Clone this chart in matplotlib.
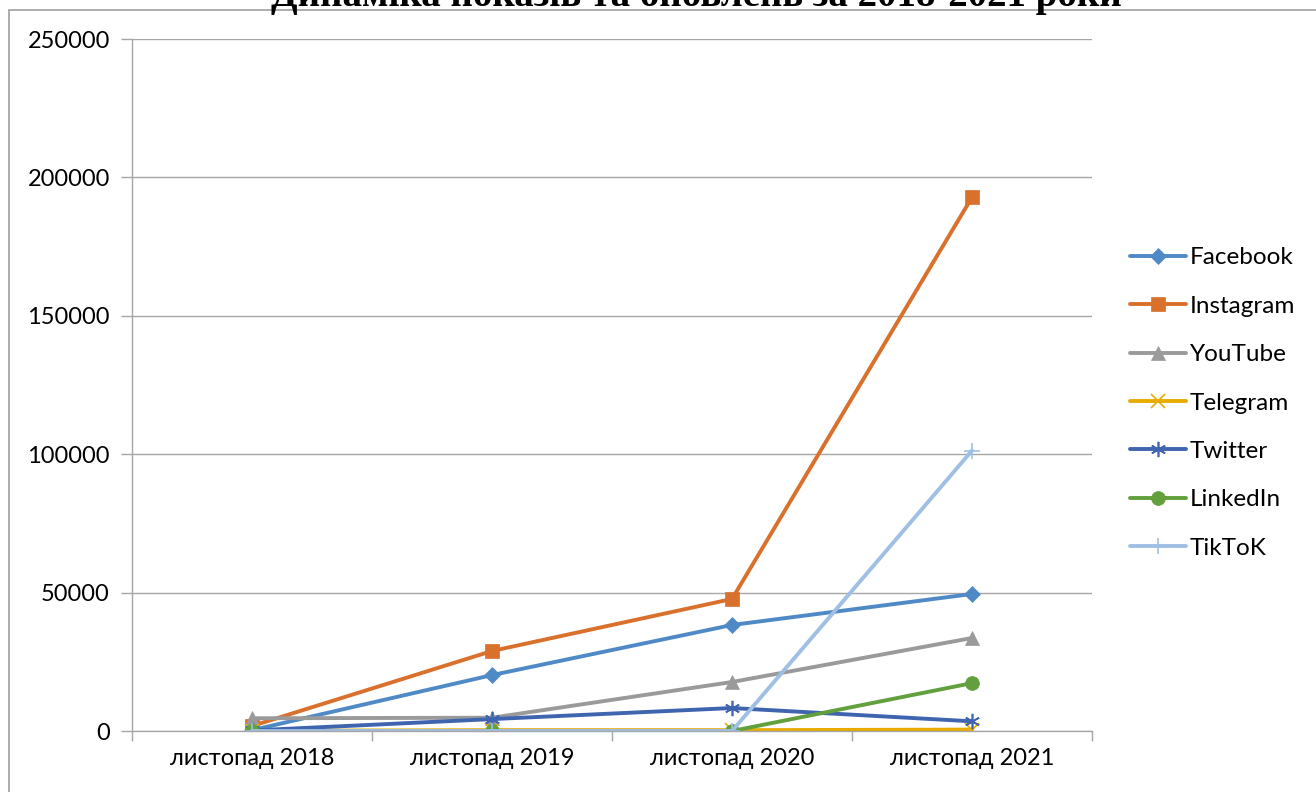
import matplotlib.pyplot as plt
from matplotlib.patches import Rectangle
import numpy as np

plt.rcParams['font.family'] = ['Lato', 'DejaVu Sans']

categories = ['листопад 2018', 'листопад 2019', 'листопад 2020', 'листопад 2021']

facebook = [300, 20200, 38300, 49500]
instagram = [1800, 28900, 47700, 192800]
youtube = [4600, 4800, 17700, 33600]
telegram = [100, 300, 300, 500]
twitter = [200, 4300, 8300, 3500]
linkedin = [0, 0, 0, 17300]
tiktok = [0, 0, 0, 101300]

series = [
    ('Facebook', facebook, '#4f8ac6', 'D', 8.5),
    ('Instagram', instagram, '#d9702c', 's', 9.5),
    ('YouTube', youtube, '#9a9a9a', '^', 10),
    ('Telegram', telegram, '#e8ab00', 'x', 9.5),
    ('Twitter', twitter, '#3f64b0', (6, 2, 0), 11),
    ('LinkedIn', linkedin, '#62a03d', 'o', 10),
    ('TikToK', tiktok, '#9fbfe4', '+', 11),
]

fig = plt.figure(figsize=(13.16, 7.92), dpi=100)
W, H = 1316, 792
ax = fig.add_axes([132 / W, 1 - 731 / H, (1092 - 132) / W, (731 - 39) / H])

x = np.arange(len(categories))
for name, vals, color, marker, ms in series:
    thin = marker in ('x', '+') or isinstance(marker, tuple)
    ax.plot(x, vals, color=color, lw=2.8, marker=marker, markersize=ms,
            markeredgewidth=1.2 if thin else 0.5,
            markeredgecolor=color, label=name, solid_capstyle='round')

ax.set_xlim(-0.5, 3.5)
ax.set_ylim(0, 250000)
ax.set_yticks(np.arange(0, 250001, 50000))
ax.set_yticklabels([str(v) for v in range(0, 250001, 50000)], fontsize=17)
ax.set_xticks(x)
ax.set_xticklabels(categories, fontsize=17)
ax.set_xticks(np.arange(-0.5, 4, 1), minor=True)
ax.tick_params(axis='x', which='major', length=0, pad=12)
ax.tick_params(axis='x', which='minor', length=7, color='#a6a6a6', width=1)
ax.tick_params(axis='y', length=8, color='#a6a6a6', width=1, pad=8)
ax.grid(axis='y', color='#a6a6a6', lw=1)
ax.set_axisbelow(True)
for side in ['top', 'right']:
    ax.spines[side].set_visible(False)
for side in ['left', 'bottom']:
    ax.spines[side].set_color('#a6a6a6')
    ax.spines[side].set_linewidth(1)

ax.legend(loc='center left', bbox_to_anchor=(1130 / W, 1 - 403 / H), bbox_transform=fig.transFigure,
          frameon=False, fontsize=17.5, handlelength=2.3, handletextpad=0.15,
          labelspacing=1.13, borderaxespad=0, borderpad=0)

fig.patches.append(Rectangle((9 / W, -0.05), 1.1, 1 - 10 / H + 0.05, transform=fig.transFigure,
                             fill=False, edgecolor='#a0a0a0', lw=1.2))

fig.text(0.529, 1 - 6 / H, 'Динаміка показів та оновлень за 2018-2021 роки', ha='center', va='baseline',
         fontsize=28, fontweight='bold', family=['Liberation Serif', 'DejaVu Serif'])

fig.savefig('out.png', dpi=100)
